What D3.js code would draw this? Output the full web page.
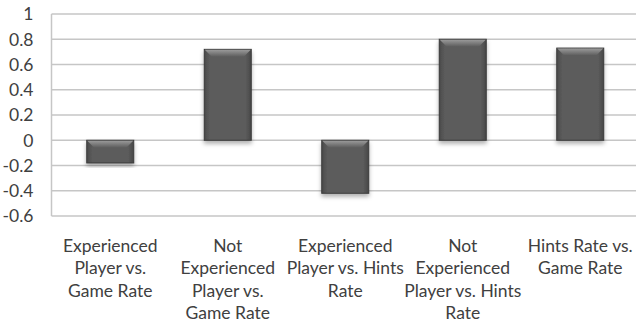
<!DOCTYPE html>
<html>
<head>
<meta charset="utf-8">
<script src="https://cdn.jsdelivr.net/npm/d3@7"></script>
<style>
  html, body { margin: 0; padding: 0; background: #fff; }
  svg { display: block; }
  text { font-family: Lato, "Noto Sans", sans-serif; fill: #404040; }
</style>
</head>
<body>
<svg id="chart" width="636" height="323"></svg>
<script>
// Correlation values per comparison
const categories = [
  "Experienced\nPlayer vs.\nGame Rate",
  "Not\nExperienced\nPlayer vs.\nGame Rate",
  "Experienced\nPlayer vs. Hints\nRate",
  "Not\nExperienced\nPlayer vs. Hints\nRate",
  "Hints Rate vs.\nGame Rate"
];
const values = [-0.18, 0.72, -0.42, 0.80, 0.73];
const yTicks = [-0.6, -0.4, -0.2, 0, 0.2, 0.4, 0.6, 0.8, 1];
const yTickLabels = ["-0.6", "-0.4", "-0.2", "0", "0.2", "0.4", "0.6", "0.8", "1"];

const svg = d3.select("#chart");
const plot = { left: 51.5, right: 639, top: 14, bottom: 216 };

const x = d3.scaleBand()
  .domain(d3.range(categories.length))
  .range([plot.left, plot.right])
  .paddingInner(0.6)
  .paddingOuter(0.3);

const y = d3.scaleLinear().domain([-0.6, 1]).range([plot.bottom, plot.top]);

// Definitions: bar body gradient, bevel gradient, shadow
const defs = svg.append("defs");
const body = defs.append("linearGradient").attr("id", "barBody")
  .attr("x1", 0).attr("x2", 1).attr("y1", 0).attr("y2", 0);
body.append("stop").attr("offset", "0%").attr("stop-color", "#4a4a4a");
body.append("stop").attr("offset", "12%").attr("stop-color", "#5c5c5c");
body.append("stop").attr("offset", "88%").attr("stop-color", "#5c5c5c");
body.append("stop").attr("offset", "100%").attr("stop-color", "#474747");

const bevel = defs.append("linearGradient").attr("id", "bevelTop")
  .attr("x1", 0).attr("x2", 0).attr("y1", 0).attr("y2", 1);
bevel.append("stop").attr("offset", "0%").attr("stop-color", "#9a9a9a");
bevel.append("stop").attr("offset", "100%").attr("stop-color", "#5c5c5c");

const shadow = defs.append("filter").attr("id", "shadow")
  .attr("x", "-20%").attr("y", "-20%").attr("width", "140%").attr("height", "140%");
shadow.append("feDropShadow").attr("dx", 0).attr("dy", 3)
  .attr("stdDeviation", 2.2).attr("flood-color", "#000").attr("flood-opacity", 0.3);

// Gridlines
svg.append("g").selectAll("line").data(yTicks).join("line")
  .attr("x1", plot.left).attr("x2", plot.right)
  .attr("y1", d => y(d)).attr("y2", d => y(d))
  .attr("stroke", "#c6c6c6").attr("stroke-width", 1.5);

// Left axis line
svg.append("line")
  .attr("x1", plot.left).attr("x2", plot.left)
  .attr("y1", y(1)).attr("y2", y(-0.6))
  .attr("stroke", "#c6c6c6").attr("stroke-width", 1.5);

// Y tick labels
svg.append("g").selectAll("text").data(yTicks).join("text")
  .attr("x", 33.5).attr("y", d => y(d))
  .attr("dy", "0.36em")
  .attr("text-anchor", "end")
  .attr("font-size", 17.5)
  .text((d, i) => yTickLabels[i]);

// Bars
const bars = svg.append("g").selectAll("g").data(values).join("g");
bars.append("rect")
  .attr("x", (d, i) => x(i))
  .attr("width", x.bandwidth())
  .attr("y", d => y(Math.max(0, d)))
  .attr("height", d => Math.abs(y(d) - y(0)))
  .attr("fill", "url(#barBody)")
  .attr("stroke", "#3a3a3a").attr("stroke-width", 1)
  .attr("filter", "url(#shadow)");

// Top bevel on each bar
bars.append("path")
  .attr("d", (d, i) => {
    const x0 = x(i) + 0.5, x1 = x(i) + x.bandwidth() - 0.5;
    const t = y(Math.max(0, d)) + 0.5;
    const h = Math.min(7, Math.abs(y(d) - y(0)) / 2);
    return `M${x0},${t}L${x1},${t}L${x1 - h},${t + h}L${x0 + h},${t + h}Z`;
  })
  .attr("fill", "url(#bevelTop)");

// Category labels
const labels = svg.append("g").selectAll("text").data(categories).join("text")
  .attr("text-anchor", "middle")
  .attr("font-size", 17.5);
labels.each(function(d, i) {
  const t = d3.select(this);
  d.split("\n").forEach((line, k) => {
    t.append("tspan")
      .attr("x", x(i) + x.bandwidth() / 2)
      .attr("y", 252 + k * 22.3)
      .text(line);
  });
});
</script>
</body>
</html>
